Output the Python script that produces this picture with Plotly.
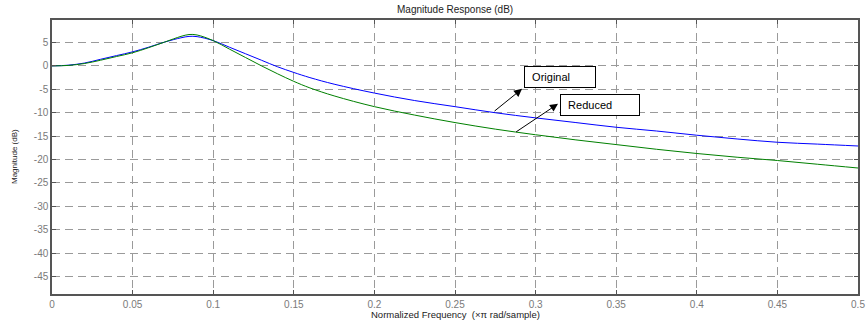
import plotly.graph_objects as go

# ---- data ----
freq = [0, 0.01, 0.02, 0.03, 0.04, 0.05, 0.06, 0.07, 0.08, 0.085, 0.09, 0.1,
        0.11, 0.12, 0.13, 0.14, 0.15, 0.16, 0.175, 0.2, 0.225, 0.25, 0.275, 0.3,
        0.325, 0.35, 0.375, 0.4, 0.425, 0.45, 0.475, 0.5]
original_db = [0, 0.15, 0.6, 1.4, 2.2, 3.0, 4.0, 5.1, 6.0, 6.3, 6.25, 5.4,
               4.0, 2.6, 1.2, -0.2, -1.4, -2.5, -3.9, -5.8, -7.4, -8.7, -10.0, -11.1,
               -12.1, -13.1, -13.9, -14.8, -15.6, -16.3, -16.7, -17.1]
reduced_db = [0, 0.1, 0.5, 1.2, 2.0, 2.8, 3.9, 5.1, 6.3, 6.7, 6.6, 5.4,
              3.6, 1.8, 0.0, -1.7, -3.3, -4.7, -6.4, -8.7, -10.5, -12.1, -13.5, -14.7,
              -15.8, -16.8, -17.8, -18.7, -19.5, -20.2, -21.0, -21.8]

x_ticks = [0, 0.05, 0.1, 0.15, 0.2, 0.25, 0.3, 0.35, 0.4, 0.45, 0.5]
x_ticktext = ["0", "0.05", "0.1", "0.15", "0.2", "0.25", "0.3", "0.35", "0.4", "0.45", "0.5"]
y_ticks = [5, 0, -5, -10, -15, -20, -25, -30, -35, -40, -45]
y_ticktext = ["5", "0", "-5", "-10", "-15", "-20", "-25", "-30", "-35", "-40", "-45"]

labels = ["Original", "Reduced"]
# label box anchors (top-left corner) and arrow tail/head positions
label_pos = [(0.2926, -0.1), (0.3149, -6.0)]
label_width = [68, 76]
arrow_tail = [(0.2736, -9.9), (0.2870, -14.3)]
arrow_head = [(0.2916, -4.9), (0.3139, -8.1)]

FONT = "Arial, Liberation Sans, Helvetica, sans-serif"
GRID = "#9a9a9a"
AXIS = "#555555"
TICKFONT = "#7a7a7a"

fig = go.Figure()
fig.add_trace(go.Scatter(x=freq, y=original_db, mode="lines", name="Original",
                         line=dict(color="#0000ff", width=1, shape="spline", smoothing=1)))
fig.add_trace(go.Scatter(x=freq, y=reduced_db, mode="lines", name="Reduced",
                         line=dict(color="#008000", width=1, shape="spline", smoothing=1)))

annotations = []
for lab, (lx, ly), w in zip(labels, label_pos, label_width):
    annotations.append(dict(x=lx, y=ly, xref="x", yref="y", text="&nbsp;&nbsp;" + lab,
                            showarrow=False,
                            xanchor="left", yanchor="top", align="left", width=w, height=18,
                            bordercolor="#000000", borderwidth=1, borderpad=1,
                            bgcolor="#ffffff", font=dict(family=FONT, size=11, color="#000000")))
for (tx, ty), (hx, hy) in zip(arrow_tail, arrow_head):
    annotations.append(dict(x=hx, y=hy, ax=tx, ay=ty, xref="x", yref="y", axref="x", ayref="y",
                            text="", showarrow=True, arrowhead=2, arrowsize=1.6, arrowwidth=1,
                            arrowcolor="#000000"))

annotations.append(dict(x=0.5, y=1, xref="paper", yref="paper", yanchor="bottom", yshift=3,
                        text="Magnitude Response (dB)", showarrow=False,
                        font=dict(family=FONT, size=10, color="#222222")))
annotations.append(dict(x=0.5, y=0, xref="paper", yref="paper", yanchor="middle", yshift=-20,
                        text="Normalized Frequency  (\u00d7\u03c0 rad/sample)", showarrow=False,
                        font=dict(family=FONT, size=9.5, color="#222222")))
annotations.append(dict(x=0, y=0.5, xref="paper", yref="paper", xanchor="center", xshift=-38,
                        text="Magnitude (dB)", showarrow=False, textangle=-90,
                        font=dict(family=FONT, size=8, color="#222222")))

fig.update_layout(
    width=867, height=326,
    margin=dict(l=52, r=9, t=20, b=32),
    paper_bgcolor="white", plot_bgcolor="white",
    showlegend=False,
    annotations=annotations,
    font=dict(family=FONT),
)
fig.update_xaxes(range=[0, 0.5], tickvals=x_ticks, ticktext=x_ticktext,
                 showgrid=True, gridcolor=GRID, griddash="8px,5px", gridwidth=1,
                 showline=True, linecolor=AXIS, linewidth=1.5, mirror="ticks",
                 ticks="inside", ticklen=4, tickcolor=AXIS,
                 tickfont=dict(family=FONT, size=10, color=TICKFONT), zeroline=False,
                 automargin=False)
fig.update_yaxes(range=[-48.7, 9.8], tickvals=y_ticks, ticktext=y_ticktext,
                 showgrid=True, gridcolor=GRID, griddash="8px,5px", gridwidth=1,
                 showline=True, linecolor=AXIS, linewidth=1.5, mirror="ticks",
                 ticks="inside", ticklen=4, tickcolor=AXIS,
                 tickfont=dict(family=FONT, size=10, color=TICKFONT), zeroline=False,
                 automargin=False)

fig.write_html("out.html")
